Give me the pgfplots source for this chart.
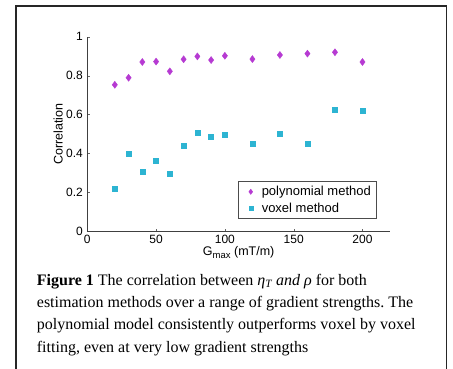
\documentclass[border=0pt]{standalone}
\usepackage{fontspec}
\setmainfont{Liberation Sans}
\newfontfamily\capfont{Liberation Serif}
\usepackage{pgfplots}
\pgfplotsset{compat=1.18}
\frenchspacing
\definecolor{polyc}{RGB}{182,58,210}
\definecolor{voxc}{RGB}{45,180,210}
\pgfplotsset{
  legA/.style={legend image code/.code={\path[draw=none,fill=none] (0pt,0pt) -- (19pt,0pt); \draw[##1, mark size=2.6pt] plot coordinates {(10pt,0pt)};}},
  legB/.style={legend image code/.code={\path[draw=none,fill=none] (0pt,0pt) -- (19pt,0pt); \draw[##1, mark size=2pt] plot coordinates {(10pt,0pt)};}},
}
\begin{document}
\begin{tikzpicture}[x=1pt,y=1pt]
\useasboundingbox (0,0) rectangle (453,368);
\fill[white] (0,0) rectangle (453,368);
\draw[line width=1.7pt, black!85] (16.3,-5) -- (16.3,362) -- (446.4,362) -- (446.4,-5);
\begin{axis}[
  at={(87.3pt,136.7pt)}, anchor=south west,
  scale only axis, width=302.7pt, height=194.6pt,
  xmin=0, xmax=220, ymin=0, ymax=1,
  axis x line*=bottom, axis y line*=left,
  axis line style={black!75},
  xtick={0,50,100,150,200},
  ytick={0,0.2,0.4,0.6,0.8,1},
  yticklabels={0,0.2,0.4,0.6,0.8,1},
  tick align=inside, major tick length=2.5pt,
  tick style={black!60},
  /pgf/number format/assume math mode=true,
  ticklabel style={font=\fontsize{12}{14}\selectfont},
  yticklabel style={xshift=-1pt},
  xlabel={G\raisebox{-3.5pt}{\fontsize{9.5}{10}\selectfont max} (mT/m)},
  xlabel style={at={(axis description cs:0.5,0)}, anchor=base, yshift=-23.7pt, font=\fontsize{12.5}{14}\selectfont},
  ylabel={Correlation},
  ylabel style={at={(axis description cs:0,0.5)}, anchor=base, yshift=24.8pt, font=\fontsize{12.5}{14}\selectfont},
  legend style={at={(0.954,0.258)}, anchor=north east, draw=black!70, font=\fontsize{13}{15}\selectfont, inner xsep=3pt, inner ysep=3pt, row sep=1.5pt},
  legend cell align=left,
]
\addplot[only marks, mark=diamond*, mark size=3.5pt, color=polyc, legA] coordinates {
(20,0.753) (30,0.789) (40,0.870) (50,0.872) (60,0.822) (70,0.884) (80,0.899)
(90,0.880) (100,0.902) (120,0.885) (140,0.906) (160,0.913) (180,0.920) (200,0.870)};
\addlegendentry{polynomial method}
\addplot[only marks, mark=square*, mark size=2.5pt, color=voxc, legB] coordinates {
(20,0.221) (30,0.397) (40,0.308) (50,0.363) (60,0.298) (70,0.442) (80,0.507)
(90,0.486) (100,0.497) (120,0.449) (140,0.500) (160,0.449) (180,0.627) (200,0.622)};
\addlegendentry{voxel method}
\end{axis}
\begin{scope}[every node/.style={anchor=base west, inner sep=0pt, font=\capfont\fontsize{16}{22}\selectfont}]
\node at (36.7,83) {\textbf{Figure 1} The correlation between {\itshape η\textsubscript{T} and ρ} for both};
\node at (36.7,60.7) {estimation methods over a range of gradient strengths. The};
\node at (36.7,38.3) {polynomial model consistently outperforms voxel by voxel};
\node at (36.7,16) {fitting, even at very low gradient strengths};
\end{scope}
\end{tikzpicture}
\end{document}
